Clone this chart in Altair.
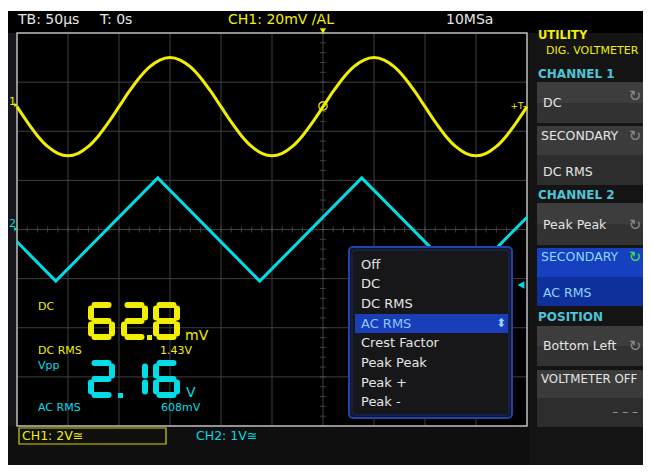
import altair as alt
import pandas as pd

# ---------------- data ----------------
TIME_US = [-300, -290, -280, -270, -260, -250, -240, -230, -220, -210,
           -200, -190, -180, -170, -160, -150, -140, -130, -120, -110,
           -100, -90, -80, -70, -60, -50, -40, -30, -20, -10,
           0, 10, 20, 30, 40, 50, 60, 70, 80, 90,
           100, 110, 120, 130, 140, 150, 160, 170, 180, 190, 200]
CH1_DIV = [2.50, 2.19, 1.91, 1.69, 1.55, 1.50, 1.55, 1.69, 1.91, 2.19,
           2.50, 2.81, 3.09, 3.31, 3.45, 3.50, 3.45, 3.31, 3.09, 2.81,
           2.50, 2.19, 1.91, 1.69, 1.55, 1.50, 1.55, 1.69, 1.91, 2.19,
           2.50, 2.81, 3.09, 3.31, 3.45, 3.50, 3.45, 3.31, 3.09, 2.81,
           2.50, 2.19, 1.91, 1.69, 1.55, 1.50, 1.55, 1.69, 1.91, 2.19, 2.50]
TRI_T = [-300, -262, -162, -62, 38, 138, 200]
TRI_DIV = [-0.25, -1.05, 1.05, -1.05, 1.05, -1.05, 0.25]

GRID_T = [-300, -250, -200, -150, -100, -50, 0, 50, 100, 150, 200]
GRID_DIV = [-4, -3, -2, -1, 0, 1, 2, 3, 4]
MINOR_T = [-300, -290, -280, -270, -260, -250, -240, -230, -220, -210,
           -200, -190, -180, -170, -160, -150, -140, -130, -120, -110,
           -100, -90, -80, -70, -60, -50, -40, -30, -20, -10,
           0, 10, 20, 30, 40, 50, 60, 70, 80, 90,
           100, 110, 120, 130, 140, 150, 160, 170, 180, 190, 200]
MINOR_DIV = [-4.0, -3.8, -3.6, -3.4, -3.2, -3.0, -2.8, -2.6, -2.4, -2.2,
             -2.0, -1.8, -1.6, -1.4, -1.2, -1.0, -0.8, -0.6, -0.4, -0.2,
             0.0, 0.2, 0.4, 0.6, 0.8, 1.0, 1.2, 1.4, 1.6, 1.8,
             2.0, 2.2, 2.4, 2.6, 2.8, 3.0, 3.2, 3.4, 3.6, 3.8, 4.0]

HEADER = ["TB: 50µs", "T: 0s", "CH1: 20mV ∕AL", "10MSa"]
MENU_TITLE = ["UTILITY", "DIG. VOLTMETER"]
SECTIONS = ["CHANNEL 1", "CHANNEL 2", "POSITION"]
BUTTONS = ["DC", "SECONDARY", "DC RMS", "Peak Peak", "SECONDARY", "AC RMS",
           "Bottom Left", "VOLTMETER OFF", "– – –"]
POPUP_ITEMS = ["Off", "DC", "DC RMS", "AC RMS", "Crest Factor", "Peak Peak", "Peak +", "Peak -"]
READ1 = "62.8"
READ2 = "2.16"
SMALL_LABELS = ["DC", "mV", "DC RMS", "1.43V", "Vpp", "V", "AC RMS", "608mV"]
FOOTER = ["CH1: 2V≅", "CH2: 1V≅"]

# ---------------- style / layout ----------------
W, H = 635, 457
OFF = 8  # page margin
RIGHT = 8 + W  # right edge of drawable page area
YEL = "#f2ee00"
CYN = "#00dde6"
CYN_L = "#4cc6d6"
TXT = "#e6e6e6"
FONT = "DejaVu Sans"

XS = alt.Scale(domain=[-300, 200], range=[17 - OFF, 527 - OFF], nice=False, zero=False)
YS = alt.Scale(domain=[-4, 4], range=[426 - OFF, 33 - OFF], nice=False, zero=False)


def px(v):
    return v - OFF


def rect_layer(rows):
    df = pd.DataFrame([dict(x=px(a), x2=px(b), y=px(c), y2=px(d), c=col) for a, b, c, d, col in rows])
    return alt.Chart(df).mark_rect().encode(
        x=alt.X("x:Q", scale=None, axis=None), x2="x2", y=alt.Y("y:Q", scale=None, axis=None), y2="y2",
        color=alt.Color("c:N", scale=None))


def text_layer(rows, align="left", weight="normal"):
    df = pd.DataFrame([dict(x=px(a), y=px(b), t=t, c=col, s=s) for a, b, t, col, s in rows])
    return alt.Chart(df).mark_text(align=align, baseline="middle", font=FONT, fontWeight=weight).encode(
        x=alt.X("x:Q", scale=None, axis=None), y=alt.Y("y:Q", scale=None, axis=None),
        text="t:N", color=alt.Color("c:N", scale=None), size=alt.Size("s:Q", scale=None))


layers = []

# backgrounds
layers.append(rect_layer([
    (8, RIGHT, 11, 473, "#0f0f0f"),
    (8, RIGHT, 11, 33, "#000000"),
    (8, 17, 33, 426, "#17171b"),
    (17, 527, 33, 426, "#000000"),
    (529, RIGHT, 33, 473, "#141414"),
    # buttons (two-tone)
    (537, RIGHT, 82, 103, "#3d3d3d"), (537, RIGHT, 103, 123, "#323232"),
    (537, RIGHT, 126, 155, "#3b3b3b"), (537, RIGHT, 155, 185, "#2d2d2d"),
    (537, RIGHT, 203, 224, "#3d3d3d"), (537, RIGHT, 224, 245, "#323232"),
    (537, RIGHT, 248, 277, "#1640c0"), (537, RIGHT, 277, 306, "#0f2f9a"),
    (537, RIGHT, 326, 346, "#3d3d3d"), (537, RIGHT, 346, 366, "#323232"),
    (537, RIGHT, 370, 398, "#3b3b3b"), (537, RIGHT, 398, 427, "#2d2d2d"),
]))

# grid
grid_v = pd.DataFrame({"t": GRID_T, "a": -4, "b": 4})
grid_h = pd.DataFrame({"v": GRID_DIV, "a": -300, "b": 200})
layers.append(alt.Chart(grid_v).mark_rule(color="#3f3f3f", strokeWidth=1).encode(
    x=alt.X("t:Q", scale=XS, axis=None), y=alt.Y("a:Q", scale=YS, axis=None), y2="b"))
layers.append(alt.Chart(grid_h).mark_rule(color="#3f3f3f", strokeWidth=1).encode(
    y=alt.Y("v:Q", scale=YS, axis=None), x=alt.X("a:Q", scale=XS, axis=None), x2="b"))
# center-cross minor ticks
layers.append(alt.Chart(pd.DataFrame({"t": MINOR_T, "v": 0})).mark_tick(
    orient="vertical", size=6, thickness=1, color="#555555").encode(
    x=alt.X("t:Q", scale=XS, axis=None), y=alt.Y("v:Q", scale=YS, axis=None)))
layers.append(alt.Chart(pd.DataFrame({"t": 0, "v": MINOR_DIV})).mark_tick(
    orient="horizontal", size=6, thickness=1, color="#555555").encode(
    x=alt.X("t:Q", scale=XS, axis=None), y=alt.Y("v:Q", scale=YS, axis=None)))
# border
layers.append(alt.Chart(pd.DataFrame({"a": [-300], "b": [200], "c": [-4], "d": [4]})).mark_rect(
    fill=None, filled=False, stroke="#b8b8b8", strokeWidth=1.5).encode(
    x=alt.X("a:Q", scale=XS, axis=None), x2="b", y=alt.Y("c:Q", scale=YS, axis=None), y2="d"))

# traces
layers.append(alt.Chart(pd.DataFrame({"t": TIME_US, "v": CH1_DIV})).mark_line(
    color=YEL, strokeWidth=3, interpolate="monotone").encode(
    x=alt.X("t:Q", scale=XS, axis=None), y=alt.Y("v:Q", scale=YS, axis=None)))
layers.append(alt.Chart(pd.DataFrame({"t": TRI_T, "v": TRI_DIV})).mark_line(
    color=CYN, strokeWidth=3).encode(
    x=alt.X("t:Q", scale=XS, axis=None), y=alt.Y("v:Q", scale=YS, axis=None)))

# markers (trigger, channel ground)
mk = pd.DataFrame([
    dict(x=px(323), y=px(31), s="triangle-down", c=YEL, z=40),
    dict(x=px(16), y=px(105), s="triangle-right", c=YEL, z=18),
    dict(x=px(16), y=px(229), s="triangle-right", c=CYN, z=18),
    dict(x=px(521), y=px(285), s="triangle-left", c=CYN, z=60),
])
layers.append(alt.Chart(mk).mark_point(filled=True, opacity=1).encode(
    x=alt.X("x:Q", scale=None, axis=None), y=alt.Y("y:Q", scale=None, axis=None),
    shape=alt.Shape("s:N", scale=None), color=alt.Color("c:N", scale=None), size=alt.Size("z:Q", scale=None)))
layers.append(alt.Chart(pd.DataFrame({"x": [px(323)], "y": [px(106)]})).mark_point(
    shape="circle", size=70, color=YEL, strokeWidth=1.2, opacity=1).encode(
    x=alt.X("x:Q", scale=None, axis=None), y=alt.Y("y:Q", scale=None, axis=None)))

# popup menu
layers.append(alt.Chart(pd.DataFrame({"x": [px(349)], "x2": [px(512)], "y": [px(247)], "y2": [px(418)]})).mark_rect(
    fill="#17171a", stroke="#2143b0", strokeWidth=2, cornerRadius=4).encode(
    x=alt.X("x:Q", scale=None, axis=None), x2="x2", y=alt.Y("y:Q", scale=None, axis=None), y2="y2"))
layers.append(alt.Chart(pd.DataFrame({"x": [px(352)], "x2": [px(509)], "y": [px(250)], "y2": [px(415)]})).mark_rect(
    fill=None, filled=False, stroke="#12287a", strokeWidth=1, cornerRadius=3).encode(
    x=alt.X("x:Q", scale=None, axis=None), x2="x2", y=alt.Y("y:Q", scale=None, axis=None), y2="y2"))
layers.append(rect_layer([(355, 508, 314, 333, "#1a3db8")]))

# footer box
layers.append(alt.Chart(pd.DataFrame({"x": [px(19)], "x2": [px(166)], "y": [px(428)], "y2": [px(444)]})).mark_rect(
    fill=None, filled=False, stroke="#d8d200", strokeWidth=1.2).encode(
    x=alt.X("x:Q", scale=None, axis=None), x2="x2", y=alt.Y("y:Q", scale=None, axis=None), y2="y2"))

# seven-segment readouts
SEG = {"0": "abcdef", "1": "bc", "2": "abdeg", "3": "abcdg", "4": "bcfg", "5": "acdfg",
       "6": "acdefg", "7": "abc", "8": "abcdefg", "9": "abcdfg"}


def seg_rows(text, cells, y0, col):
    rows = []
    digits = [ch for ch in text if ch != "."]
    for d, x0 in zip(digits, cells):
        geo = {
            "a": (x0 + 6.5, x0 + 20.5, y0 + 3, y0 + 3),
            "g": (x0 + 6.5, x0 + 20.5, y0 + 19, y0 + 19),
            "d": (x0 + 6.5, x0 + 20.5, y0 + 35, y0 + 35),
            "f": (x0 + 3, x0 + 3, y0 + 6.5, y0 + 15.5),
            "b": (x0 + 24, x0 + 24, y0 + 6.5, y0 + 15.5),
            "e": (x0 + 3, x0 + 3, y0 + 22.5, y0 + 31.5),
            "c": (x0 + 24, x0 + 24, y0 + 22.5, y0 + 31.5),
        }
        for s in SEG[d]:
            a, b, c, e = geo[s]
            rows.append(dict(x=px(a), x2=px(b), y=px(c), y2=px(e), c=col))
    return rows


segs = pd.DataFrame(seg_rows(READ1, [88, 121, 153], 302, YEL) + seg_rows(READ2, [88, 121, 153], 360, CYN))
layers.append(alt.Chart(segs).mark_rule(strokeWidth=6, strokeCap="round").encode(
    x=alt.X("x:Q", scale=None, axis=None), x2="x2", y=alt.Y("y:Q", scale=None, axis=None), y2="y2",
    color=alt.Color("c:N", scale=None)))
layers.append(rect_layer([(147, 152, 335, 340, YEL), (118, 123, 393, 398, CYN)]))

# texts
layers.append(text_layer([
    (18, 20, HEADER[0], TXT, 14), (100, 20, HEADER[1], TXT, 14),
    (228, 20, HEADER[2], YEL, 14), (446, 20, HEADER[3], TXT, 14),
    (543, 103, BUTTONS[0], TXT, 12.5), (541, 136, BUTTONS[1], TXT, 12.5), (543, 172, BUTTONS[2], TXT, 12.5),
    (543, 225, BUTTONS[3], TXT, 12.5), (541, 257, BUTTONS[4], "#8fd6ff", 12.5), (543, 293, BUTTONS[5], "#8fd6ff", 12.5),
    (543, 346, BUTTONS[6], TXT, 12.5), (541, 379, BUTTONS[7], TXT, 11.8),
    (361, 265, POPUP_ITEMS[0], TXT, 13), (361, 284, POPUP_ITEMS[1], TXT, 13),
    (361, 304, POPUP_ITEMS[2], TXT, 13), (361, 324, POPUP_ITEMS[3], "#8cc8ff", 13),
    (361, 343, POPUP_ITEMS[4], TXT, 13), (361, 363, POPUP_ITEMS[5], TXT, 13),
    (361, 383, POPUP_ITEMS[6], TXT, 13), (361, 402, POPUP_ITEMS[7], TXT, 13),
    (38, 307, SMALL_LABELS[0], YEL, 11), (185, 336, SMALL_LABELS[1], YEL, 14),
    (38, 351, SMALL_LABELS[2], YEL, 11), (160, 351, SMALL_LABELS[3], YEL, 11),
    (38, 366, SMALL_LABELS[4], CYN, 11), (186, 393, SMALL_LABELS[5], CYN, 14),
    (38, 408, SMALL_LABELS[6], CYN, 11), (161, 408, SMALL_LABELS[7], CYN, 11),
    (22, 436, FOOTER[0], YEL, 12.5), (196, 436, FOOTER[1], CYN, 12.5),
    (9, 102, "1", YEL, 11), (9, 224, "2", CYN, 11),
    (546, 51, MENU_TITLE[1], YEL, 11),
]))
layers.append(text_layer([
    (538, 36, MENU_TITLE[0], YEL, 11.5),
    (538, 74, SECTIONS[0], CYN_L, 12), (538, 195, SECTIONS[1], CYN_L, 12), (538, 317, SECTIONS[2], CYN_L, 12),
], weight="bold"))
layers.append(text_layer([
    (638, 412, BUTTONS[8], "#9a9a9a", 12),
    (526, 106, "+T-", YEL, 9),
], align="right"))
layers.append(text_layer([
    (635, 96, "↻", "#8a8a8a", 15), (635, 136, "↻", "#8a8a8a", 15), (635, 225, "↻", "#8a8a8a", 15),
    (635, 257, "↻", "#46e046", 15), (635, 346, "↻", "#8a8a8a", 15),
    (501, 323, "⬍", "#9fd0ff", 12),
], align="center"))

chart = alt.layer(*layers).properties(
    width=W, height=H, background="white", padding=0,
    autosize=alt.AutoSizeParams(type="none"),
).configure_view(stroke=None)

chart.save("out.html", embed_options={"renderer": "svg", "actions": False})
